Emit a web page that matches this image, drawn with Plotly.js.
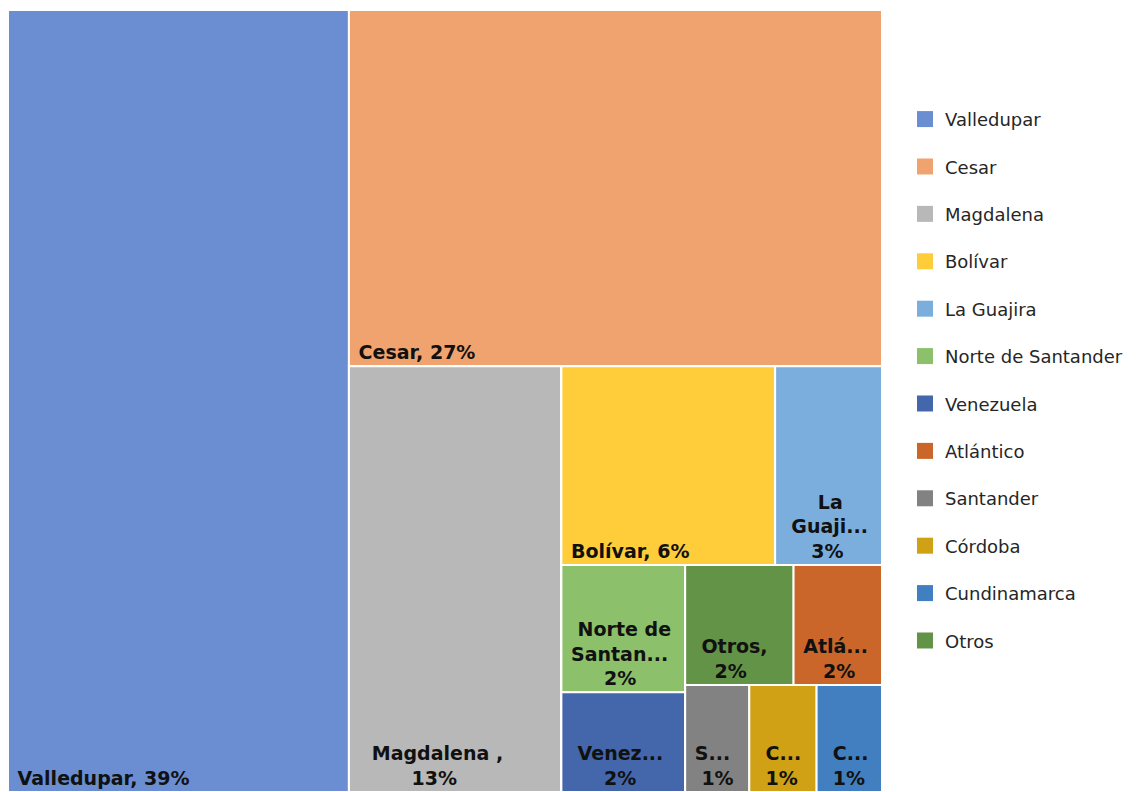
<!DOCTYPE html>
<html>
<head>
<meta charset="utf-8">
<script src="https://cdn.plot.ly/plotly-3.0.1.min.js"></script>
<style>html,body{margin:0;padding:0;background:#fff;}#chart{width:1141px;height:792px;}</style>
</head>
<body>
<div id="chart"></div>
<script>
// ---- Data (legend order) ----
const categories = ["Valledupar", "Cesar", "Magdalena", "Bolívar", "La Guajira", "Norte de Santander",
  "Venezuela", "Atlántico", "Santander", "Córdoba", "Cundinamarca", "Otros"];
const shares = [38.9, 27.7, 13.2, 6.2, 3.1, 2.3, 1.8, 1.55, 1.0, 1.05, 1.02, 1.9];
// Labels as printed in the boxes (the original wraps / truncates and centres them)
const sp = n => "\u00a0".repeat(n);
const boxLabels = [
  sp(1) + "Valledupar, 39%",
  sp(1) + "Cesar, 27%",
  sp(3) + "Magdalena ,<br>" + sp(9) + "13%",
  sp(1) + "Bolívar, 6%",
  sp(6) + "La<br>" + sp(2) + "Guaji...<br>" + sp(5) + "3%",
  sp(2) + "Norte de<br>" + sp(1) + "Santan...<br>" + sp(6) + "2%",
  sp(2) + "Venez...<br>" + sp(6) + "2%",
  sp(1) + "Atlá...<br>" + sp(4) + "2%",
  sp(1) + "S...<br>" + sp(2) + "1%",
  sp(2) + "C...<br>" + sp(2) + "1%",
  sp(2) + "C...<br>" + sp(2) + "1%",
  sp(2) + "Otros,<br>" + sp(4) + "2%"
];
const colors = ["#6a8ed1", "#f1a36f", "#b8b8b8", "#ffcd3a", "#7caedd", "#8cc06a",
  "#4466ab", "#ca6629", "#828282", "#d0a114", "#417fc0", "#629346"];

// ---- Tile nesting (reproduces the alternating column/row arrangement of the original) ----
const tileOrder = ["Valledupar", "Cesar", "Magdalena", "Bolívar", "La Guajira", "Norte de Santander",
  "Venezuela", "Otros", "Atlántico", "Santander", "Córdoba", "Cundinamarca"];
const tileParents = ["", "G1", "G2", "G4", "G4", "G6", "G6", "G8", "G8", "G9", "G9", "G9"];
const groupIds = ["G1", "G2", "G3", "G4", "G5", "G6", "G7", "G8", "G9"];
const groupParents = ["", "G1", "G2", "G3", "G3", "G5", "G5", "G7", "G7"];

const idx = tileOrder.map(n => categories.indexOf(n));
const ids = tileOrder.concat(groupIds);
const parents = tileParents.concat(groupParents);
const values = idx.map(i => shares[i]).concat(groupIds.map(() => 0));
const texts = idx.map(i => boxLabels[i]).concat(groupIds.map(() => ""));
const tileColors = idx.map(i => colors[i]).concat(groupIds.map(() => "rgba(255,255,255,0)"));
const labels = idx.map(i => categories[i]).concat(groupIds.map(() => " "));

const FONT = "'DejaVu Sans', Verdana, sans-serif";

const treemap = {
  type: "treemap",
  ids: ids,
  labels: labels,
  parents: parents,
  values: values,
  branchvalues: "remainder",
  text: texts,
  texttemplate: "<b>%{text}</b>",
  textposition: "bottom left",
  textfont: {family: FONT, size: 19, color: "#111111"},
  marker: {colors: tileColors, line: {color: "#ffffff", width: 2}, pad: {t: 0, l: 0, r: 0, b: 0}},
  leaf: {opacity: 1},
  tiling: {packing: "slice-dice", pad: 0},
  pathbar: {visible: false},
  sort: false,
  domain: {x: [0, 0.7714], y: [0, 1]},
  hoverinfo: "label",
  showlegend: false
};

const legendTraces = categories.map((c, i) => ({
  type: "scatter", mode: "markers", x: [null], y: [null], name: c,
  legendgroup: "g" + i,
  marker: {symbol: "square", size: 16, color: colors[i]},
  showlegend: true, hoverinfo: "skip"
}));

const layout = {
  width: 1141, height: 792,
  margin: {l: 8, r: 0, t: 10, b: 0},
  paper_bgcolor: "#ffffff", plot_bgcolor: "#ffffff",
  font: {family: FONT},
  uniformtext: {minsize: 16, mode: "show"},
  xaxis: {visible: false, domain: [0.99, 1]},
  yaxis: {visible: false},
  showlegend: true,
  legend: {x: 0.7917, xanchor: "left", y: 0.527, yanchor: "middle", font: {family: FONT, size: 18, color: "#262626"},
    tracegroupgap: 21, itemwidth: 30, bgcolor: "rgba(0,0,0,0)"}
};

Plotly.newPlot("chart", [treemap].concat(legendTraces), layout, {displayModeBar: false});
</script>
</body>
</html>
